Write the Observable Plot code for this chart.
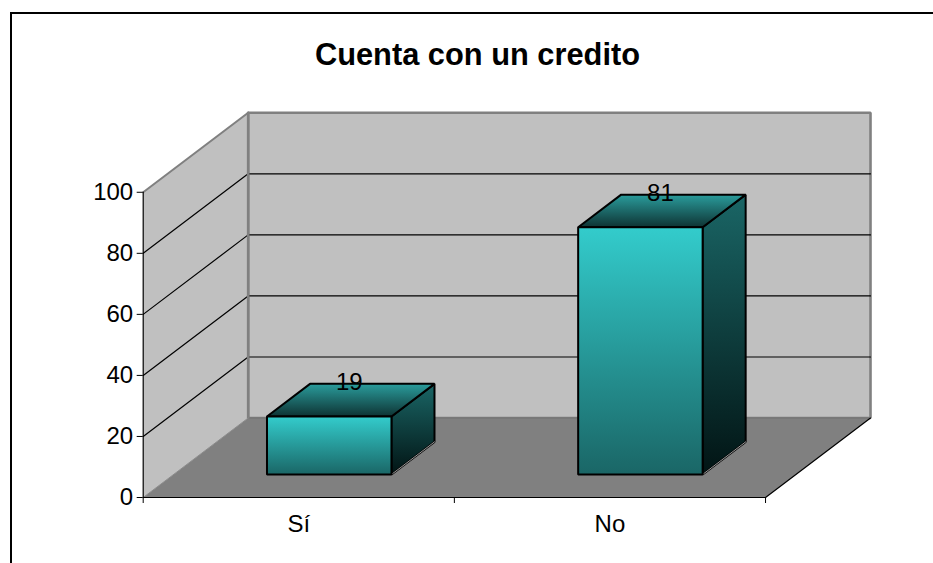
<!DOCTYPE html>
<html lang="es">
<head>
<meta charset="utf-8">
<title>Cuenta con un credito</title>
<script src="https://cdn.jsdelivr.net/npm/d3@7"></script>
<script src="https://cdn.jsdelivr.net/npm/@observablehq/plot@0.6"></script>
<style>
  html, body { margin: 0; padding: 0; background: #fff; overflow: hidden; width: 933px; height: 563px; }
  body { position: relative; font-family: "Liberation Sans", Arial, sans-serif; }
  #frame { position: absolute; left: 10px; top: 12px; right: 0; bottom: 0; border-left: 2px solid #000; border-top: 2px solid #000; pointer-events: none; z-index: 2; }
  #title { width: 955px; height: 80px; margin: 0; text-align: center; font-size: 30.8px; font-weight: bold; line-height: 110px; color: #000; }
  #chart svg { display: block; }
</style>
</head>
<body>
<div id="frame"></div>
<h1 id="title">Cuenta con un credito</h1>
<div id="chart"></div>
<script>
const titleText = "Cuenta con un credito";
const categories = ["Sí", "No"];
const values = [19, 81];
const yTicks = [0, 20, 40, 60, 80, 100];
const xEdges = [0, 1, 2];
const yGrid = [20, 40, 60, 80];

// Oblique projection of the 3D box: depth z (0 front, 1 back) shifts along both axes.
const depthX = 0.3373;
const depthY = 26.04;
const barSide = 0.3;      // category inset of a bar
const barNear = 0.29;     // depth where bars start
const barFar = 0.70;      // depth where bars end

const P = (id, u, v, z) => ({id, x: u + z * depthX, y: v + z * depthY});
const poly = (id, pts) => pts.map(([u, v, z]) => P(id, u, v, z));
const N = categories.length, M = 100;

const leftWall = poly("left", [[0,0,0],[0,M,0],[0,M,1],[0,0,1]]);
const backWall = poly("back", [[0,0,1],[0,M,1],[N,M,1],[N,0,1]]);
const floor = poly("floor", [[0,0,0],[N,0,0],[N,0,1],[0,0,1]]);
const topEdge = poly("edge", [[0,M,0],[0,M,1]]);
const floorLeft = poly("fl", [[0,0,0],[0,0,1]]);
const floorBack = poly("fb", [[0,0,1],[N,0,1]]);
const floorRight = poly("fr", [[N,0,0],[N,0,1]]);
const grid = yGrid.flatMap(v => poly("g" + v, [[0,v,0],[0,v,1],[N,v,1]]));

const front = [], topFace = [], sideFace = [], sideEdge = [];
categories.forEach((c, i) => {
  const a = i + barSide, b = i + 1 - barSide, v = values[i], n = barNear, f = barFar;
  front.push(...poly("f" + i, [[a,0,n],[a,v,n],[b,v,n],[b,0,n]]));
  topFace.push(...poly("t" + i, [[a,v,n],[a,v,f],[b,v,f],[b,v,n]]));
  sideFace.push(...poly("s" + i, [[b,0,n],[b,v,n],[b,v,f],[b,0,f]]));
  sideEdge.push(...poly("e" + i, [[b,0,n],[b,0,f]]));
});
const labels = categories.map((c, i) => ({...P(c, i + 0.5, values[i], 0.5), text: String(values[i])}));

const defs = () => {
  const d = d3.create("svg:defs");
  const grad = (id, c0, c1) => {
    const g = d.append("linearGradient").attr("id", id).attr("x1", 0).attr("y1", 0).attr("x2", 0).attr("y2", 1);
    g.append("stop").attr("offset", "0%").attr("stop-color", c0);
    g.append("stop").attr("offset", "100%").attr("stop-color", c1);
  };
  grad("gFront", "#33CCCC", "#1A6666");
  grad("gTop", "#2A9C9C", "#0E3333");
  grad("gSide", "#1A6666", "#021414");
  return d.node();
};

const face = (data, fill, stroke, strokeWidth) => Plot.line(data, {
  x: "x", y: "y", z: "id", fill, stroke, strokeWidth, curve: "linear-closed", strokeLinejoin: "miter"
});
const seg = (data, stroke, strokeWidth) => Plot.line(data, {x: "x", y: "y", z: "id", stroke, strokeWidth});

const chart = Plot.plot({
  width: 933,
  height: 483,
  marginLeft: 142.7,
  marginRight: 63,
  marginTop: 32.3,
  marginBottom: 66,
  style: {background: "#fff", fontFamily: "'Liberation Sans', Arial, sans-serif", color: "#000"},
  x: {type: "linear", domain: [0, N + depthX]},
  y: {type: "linear", domain: [0, M + depthY]},
  marks: [
    defs,
    face(backWall, "#C0C0C0", "#808080", 2.6),
    face(leftWall, "#C0C0C0", "none", 0),
    face(floor, "#808080", "none", 0),
    seg(floorBack, "#707070", 1),
    seg(grid, "#000", 1.2),
    seg(topEdge, "#808080", 2),
    seg(poly("wl", [[0,0,1],[0,M,1]]), "#808080", 2.6),
    seg(floorLeft, "#8c8c8c", 1),
    seg(floorRight, "#000", 1.2),
    face(sideFace, "url(#gSide)", "#000", 2),
    seg(sideEdge, "#9a9a9a", 1),
    face(topFace, "url(#gTop)", "#000", 2),
    face(front, "url(#gFront)", "#000", 2),
    Plot.text(labels, {x: "x", y: "y", text: "text", dy: -17, dx: -2, fontSize: 24, fill: "#000"}),
    Plot.axisY({ticks: yTicks, tickSize: 6, tickPadding: 4, fontSize: 24, label: null, stroke: "#000"}),
    Plot.ruleX([0], {y1: 0, y2: M, stroke: "#000", strokeWidth: 1.2}),
    Plot.ruleY([0], {x1: 0, x2: N, stroke: "#000", strokeWidth: 1.2}),
    Plot.axisX({ticks: xEdges, tickSize: 6, tickFormat: () => "", label: null, stroke: "#000"}),
    Plot.axisX({ticks: categories.map((c, i) => i + 0.5), tickSize: 0, tickPadding: 17, tickFormat: d => categories[Math.floor(d)], fontSize: 24, label: null})
  ]
});
document.getElementById("chart").appendChild(chart);
</script>
</body>
</html>
